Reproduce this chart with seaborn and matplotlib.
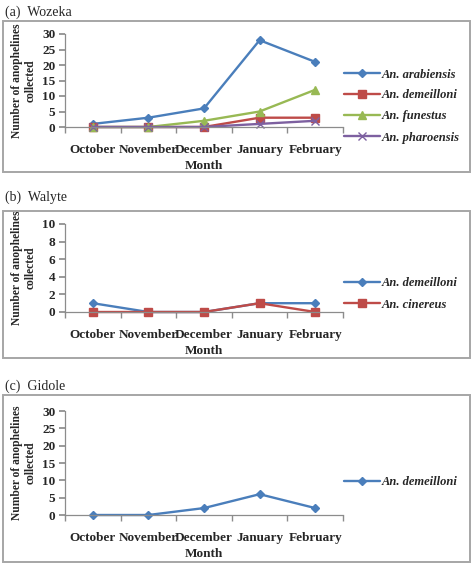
import matplotlib
matplotlib.use('Agg')
import matplotlib.pyplot as plt
import pandas as pd
import seaborn as sns
from matplotlib.patches import Rectangle

months = ['October', 'November', 'December', 'January', 'February']

# (a) Wozeka
wozeka_arabiensis = [1, 3, 6, 28, 21]
wozeka_demeilloni = [0, 0, 0, 3, 3]
wozeka_funestus = [0, 0, 2, 5, 12]
wozeka_pharoensis = [0, 0, 0, 1, 2]

# (b) Walyte
walyte_demeilloni = [1, 0, 0, 1, 1]
walyte_cinereus = [0, 0, 0, 1, 0]

# (c) Gidole
gidole_demeilloni = [0, 0, 2, 6, 2]

BLUE = '#4A7EBB'
RED = '#BE4B48'
GREEN = '#98B954'
PURPLE = '#7D60A0'
AXIS_GRAY = '#8C8C8C'

sns.set_theme(style='white')
plt.rcParams['font.family'] = ['Liberation Serif', 'DejaVu Serif']

W, H = 472, 566
fig = plt.figure(figsize=(W / 100, H / 100), dpi=100)


def px_axes(top, bottom, left=65, right=343):
    return fig.add_axes([left / W, 1 - bottom / H, (right - left) / W, (bottom - top) / H])


def draw_panel(ax, series, ymax, ystep):
    for vals, color, marker, ms, name in series:
        df = pd.DataFrame({'Month': months, 'n': vals})
        sns.lineplot(data=df, x='Month', y='n', ax=ax, color=color, marker=marker,
                     markersize=ms, linewidth=1.7, markeredgecolor=color,
                     markeredgewidth=1.0, label=name, sort=False, clip_on=False)
    ax.set_xlim(-0.5, 4.5)
    ax.set_ylim(0, ymax)
    ax.set_yticks(range(0, ymax + 1, ystep))
    ax.set_xticks(range(5))
    ax.set_xticklabels(months)
    ax.set_xticks([i - 0.5 for i in range(6)], minor=True)
    ax.tick_params(axis='x', which='major', length=0, pad=12, labelsize=9.5)
    ax.tick_params(axis='x', which='minor', length=4, color=AXIS_GRAY, direction='out', bottom=True)
    ax.tick_params(axis='y', length=4, color=AXIS_GRAY, direction='out', left=True, labelsize=9.5, pad=3)
    for lab in ax.get_xticklabels() + ax.get_yticklabels():
        lab.set_fontweight('bold')
    for s in ['top', 'right']:
        ax.spines[s].set_visible(False)
    for s in ['left', 'bottom']:
        ax.spines[s].set_color(AXIS_GRAY)
        ax.spines[s].set_linewidth(0.9)
    ax.set_xlabel('Month', fontsize=9.5, fontweight='bold', labelpad=3)
    ax.set_ylabel('Number of anophelines\ncollected', fontsize=8.3, fontweight='bold',
                  linespacing=1.15, labelpad=4)
    ax.set_facecolor('none')
    handles, labels = ax.get_legend_handles_labels()
    ax.get_legend().remove()
    return handles, labels


def add_box(top, bottom, left=3, right=470):
    fig.patches.append(Rectangle((left / W, 1 - bottom / H), (right - left) / W, (bottom - top) / H,
                                 transform=fig.transFigure, fill=False,
                                 edgecolor='#A6A6A6', linewidth=1.4))


def add_legend(handles, labels, cy):
    fig.legend(handles, labels, loc='center left', bbox_to_anchor=(344 / W, 1 - cy / H),
               frameon=False, handlelength=2.9, handletextpad=0.1, labelspacing=0.72,
               borderpad=0, borderaxespad=0,
               prop={'family': 'Liberation Serif', 'style': 'italic',
                     'weight': 'bold', 'size': 9})


# Panel (a)
add_box(21, 172)
fig.text(5 / W, 1 - 12 / H, '(a)  Wozeka', fontsize=10, va='center', ha='left')
ax_a = px_axes(34, 127)
h, l = draw_panel(ax_a, [
    (wozeka_arabiensis, BLUE, 'D', 4.5, 'An. arabiensis'),
    (wozeka_demeilloni, RED, 's', 5.5, 'An. demeilloni'),
    (wozeka_funestus, GREEN, '^', 6, 'An. funestus'),
    (wozeka_pharoensis, PURPLE, 'x', 5.5, 'An. pharoensis'),
], 30, 5)
add_legend(h, l, 106)

# Panel (b)
add_box(211, 358)
fig.text(5 / W, 1 - 197 / H, '(b)  Walyte', fontsize=10, va='center', ha='left')
ax_b = px_axes(224, 312)
h, l = draw_panel(ax_b, [
    (walyte_demeilloni, BLUE, 'D', 4.5, 'An. demeilloni'),
    (walyte_cinereus, RED, 's', 5.5, 'An. cinereus'),
], 10, 2)
add_legend(h, l, 294)

# Panel (c)
add_box(395, 562)
fig.text(5 / W, 1 - 386 / H, '(c)  Gidole', fontsize=10, va='center', ha='left')
ax_c = px_axes(411, 515)
h, l = draw_panel(ax_c, [
    (gidole_demeilloni, BLUE, 'D', 4.5, 'An. demeilloni'),
], 30, 5)
add_legend(h, l, 482)

fig.savefig('out.png', dpi=100)
plt.close(fig)
